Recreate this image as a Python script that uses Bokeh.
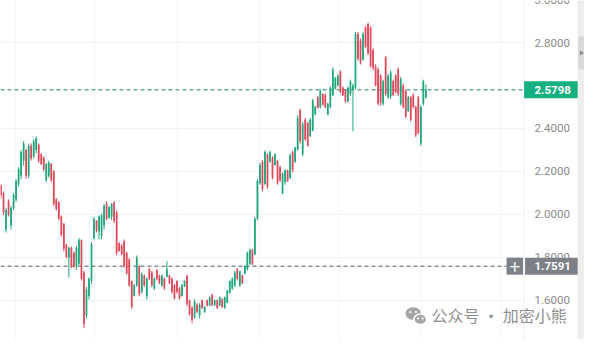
import numpy as np
from bokeh.plotting import figure
from bokeh.models import Range1d, FixedTicker, ColumnDataSource
from bokeh.core.properties import value
from bokeh.embed import file_html
from bokeh.resources import INLINE

# ---- data ----
opens = [2.135, 2.10, 1.93, 2.06, 1.95, 2.03, 2.07, 2.14, 2.18, 2.25,
         2.30, 2.18, 2.32, 2.27, 2.30, 2.325, 2.28, 2.265, 2.16, 2.18,
         2.235, 2.20, 2.07, 2.055, 1.99, 1.955, 1.86, 1.80, 1.845, 1.82,
         1.76, 1.77, 1.88, 1.73, 1.53, 1.62, 1.69, 1.89, 1.97, 1.92,
         1.90, 1.95, 2.05, 1.985, 1.99, 2.055, 2.01, 1.865, 1.855, 1.875,
         1.82, 1.79, 1.69, 1.62, 1.67, 1.76, 1.64, 1.715, 1.62, 1.745,
         1.73, 1.655, 1.74, 1.715, 1.67, 1.70, 1.71, 1.715, 1.70, 1.67,
         1.69, 1.655, 1.62, 1.665, 1.715, 1.60, 1.565, 1.52, 1.58, 1.53,
         1.60, 1.545, 1.60, 1.575, 1.625, 1.578, 1.60, 1.575, 1.605, 1.565,
         1.59, 1.635, 1.655, 1.67, 1.745, 1.67, 1.715, 1.725, 1.745, 1.77,
         1.835, 1.815, 1.98, 2.145, 2.245, 2.14, 2.28, 2.245, 2.265, 2.23,
         2.25, 2.22, 2.10, 2.15, 2.205, 2.17, 2.29, 2.245, 2.30, 2.485,
         2.28, 2.44, 2.425, 2.365, 2.39, 2.465, 2.545, 2.50, 2.56, 2.555,
         2.465, 2.50, 2.555, 2.585, 2.60, 2.665, 2.59, 2.578, 2.525, 2.56,
         2.58, 2.59, 2.84, 2.81, 2.72, 2.87, 2.885, 2.87, 2.765, 2.69,
         2.675, 2.645, 2.515, 2.73, 2.545, 2.55, 2.62, 2.645, 2.675, 2.515,
         2.60, 2.575, 2.48, 2.545, 2.555, 2.50, 2.545, 2.33, 2.515, 2.545]
highs = [2.14, 2.107, 2.031, 2.07, 2.04, 2.10, 2.164, 2.22, 2.30, 2.342,
         2.305, 2.33, 2.33, 2.35, 2.364, 2.33, 2.285, 2.27, 2.24, 2.25,
         2.24, 2.205, 2.076, 2.062, 1.995, 1.96, 1.862, 1.85, 1.85, 1.827,
         1.853, 1.89, 1.884, 1.738, 1.662, 1.707, 1.871, 1.987, 1.973, 1.995,
         2.004, 2.049, 2.062, 2.04, 2.053, 2.062, 2.018, 1.871, 1.862, 1.884,
         1.827, 1.796, 1.693, 1.676, 1.809, 1.764, 1.73, 1.72, 1.707, 1.751,
         1.738, 1.707, 1.745, 1.72, 1.72, 1.707, 1.782, 1.72, 1.707, 1.676,
         1.693, 1.662, 1.676, 1.693, 1.72, 1.604, 1.573, 1.604, 1.587, 1.587,
         1.604, 1.573, 1.604, 1.618, 1.631, 1.604, 1.604, 1.618, 1.61, 1.618,
         1.649, 1.693, 1.707, 1.738, 1.751, 1.738, 1.72, 1.764, 1.827, 1.84,
         1.84, 1.987, 2.164, 2.24, 2.253, 2.298, 2.284, 2.298, 2.271, 2.284,
         2.253, 2.227, 2.196, 2.209, 2.209, 2.284, 2.298, 2.316, 2.462, 2.493,
         2.431, 2.449, 2.431, 2.449, 2.538, 2.507, 2.551, 2.582, 2.564, 2.564,
         2.52, 2.596, 2.684, 2.64, 2.653, 2.671, 2.596, 2.582, 2.596, 2.627,
         2.609, 2.849, 2.849, 2.818, 2.849, 2.876, 2.893, 2.876, 2.773, 2.698,
         2.684, 2.653, 2.627, 2.738, 2.653, 2.671, 2.627, 2.653, 2.684, 2.64,
         2.609, 2.582, 2.551, 2.551, 2.564, 2.507, 2.551, 2.507, 2.627, 2.605]
lows = [2.076, 1.996, 1.916, 1.99, 1.93, 2.02, 2.06, 2.13, 2.165, 2.227,
        2.165, 2.17, 2.25, 2.26, 2.285, 2.24, 2.23, 2.20, 2.15, 2.17,
        2.15, 2.04, 2.018, 1.973, 1.898, 1.827, 1.796, 1.707, 1.75, 1.75,
        1.742, 1.764, 1.693, 1.471, 1.516, 1.604, 1.676, 1.884, 1.916, 1.884,
        1.884, 1.929, 1.973, 1.98, 1.973, 1.96, 1.809, 1.827, 1.809, 1.751,
        1.72, 1.662, 1.56, 1.618, 1.662, 1.618, 1.631, 1.662, 1.604, 1.693,
        1.662, 1.649, 1.693, 1.676, 1.662, 1.649, 1.707, 1.676, 1.631, 1.604,
        1.631, 1.604, 1.618, 1.662, 1.573, 1.529, 1.493, 1.516, 1.542, 1.516,
        1.56, 1.542, 1.573, 1.573, 1.573, 1.573, 1.56, 1.573, 1.565, 1.56,
        1.587, 1.631, 1.649, 1.662, 1.693, 1.662, 1.676, 1.72, 1.738, 1.764,
        1.764, 1.809, 1.973, 2.138, 2.107, 2.138, 2.12, 2.24, 2.164, 2.227,
        2.138, 2.151, 2.093, 2.138, 2.151, 2.164, 2.196, 2.24, 2.298, 2.329,
        2.271, 2.342, 2.316, 2.36, 2.387, 2.462, 2.493, 2.493, 2.507, 2.493,
        2.462, 2.493, 2.551, 2.582, 2.596, 2.564, 2.551, 2.52, 2.52, 2.551,
        2.387, 2.582, 2.716, 2.698, 2.716, 2.773, 2.742, 2.684, 2.671, 2.596,
        2.507, 2.507, 2.507, 2.551, 2.538, 2.538, 2.551, 2.564, 2.551, 2.507,
        2.493, 2.449, 2.476, 2.431, 2.493, 2.36, 2.373, 2.32, 2.507, 2.538]
closes = [2.09, 2.01, 2.02, 2.00, 2.03, 2.09, 2.155, 2.21, 2.29, 2.33,
          2.18, 2.32, 2.26, 2.34, 2.355, 2.25, 2.235, 2.21, 2.235, 2.24,
          2.16, 2.05, 2.025, 1.98, 1.905, 1.84, 1.80, 1.845, 1.76, 1.76,
          1.845, 1.88, 1.70, 1.49, 1.65, 1.70, 1.86, 1.98, 1.925, 1.99,
          1.995, 2.04, 1.98, 2.035, 2.05, 1.97, 1.82, 1.83, 1.815, 1.76,
          1.725, 1.67, 1.57, 1.67, 1.80, 1.63, 1.72, 1.67, 1.70, 1.70,
          1.67, 1.70, 1.70, 1.68, 1.715, 1.655, 1.745, 1.68, 1.64, 1.61,
          1.64, 1.61, 1.67, 1.69, 1.585, 1.535, 1.51, 1.595, 1.545, 1.58,
          1.565, 1.57, 1.575, 1.615, 1.58, 1.60, 1.565, 1.615, 1.57, 1.615,
          1.645, 1.69, 1.70, 1.73, 1.70, 1.735, 1.68, 1.76, 1.82, 1.835,
          1.77, 1.98, 2.155, 2.23, 2.12, 2.29, 2.13, 2.29, 2.17, 2.28,
          2.145, 2.16, 2.19, 2.205, 2.155, 2.275, 2.205, 2.31, 2.45, 2.34,
          2.42, 2.35, 2.32, 2.44, 2.53, 2.50, 2.495, 2.575, 2.51, 2.50,
          2.515, 2.59, 2.675, 2.635, 2.645, 2.57, 2.555, 2.525, 2.59, 2.62,
          2.60, 2.84, 2.725, 2.705, 2.84, 2.78, 2.75, 2.69, 2.68, 2.60,
          2.515, 2.52, 2.62, 2.56, 2.645, 2.66, 2.555, 2.57, 2.56, 2.63,
          2.50, 2.455, 2.545, 2.44, 2.50, 2.37, 2.38, 2.50, 2.62, 2.5798]

last_price = closes[-1]
marked_price = 1.7591
tick_prices = [1.6, 1.8, 2.0, 2.2, 2.4, 2.8, 3.0]
tick_labels = ["1.6000", "1.8000", "2.0000", "2.2000", "2.4000", "2.8000", "3.0000"]
time_grid = [5.6, 37.35, 70.2, 102.4, 134.5, 167.1, 199.1]
watermark = "公众号 · 加密小熊"

UP = "#22a67e"
DOWN = "#dc4a5c"

W, H = 584, 339
n = len(closes)
idx = np.arange(n)
o = np.array(opens); c = np.array(closes)
colors = [UP if cc >= oo else DOWN for oo, cc in zip(opens, closes)]
src = ColumnDataSource(dict(x=idx, o=o, h=highs, l=lows, c=c,
                            top=np.maximum(o, c), bot=np.minimum(o, c), color=colors))

p = figure(width=W, height=H, output_backend="svg", toolbar_location=None,
           x_range=Range1d(-0.2, 232.1), y_range=Range1d(1.4178, 2.9956),
           x_axis_location=None, y_axis_location=None, min_border=0,
           outline_line_color=None, background_fill_color="white")
p.extra_x_ranges = {"px": Range1d(0, W)}
p.extra_y_ranges = {"py": Range1d(H, 0)}

p.ygrid.ticker = FixedTicker(ticks=tick_prices)
p.xgrid.ticker = FixedTicker(ticks=time_grid)
p.ygrid.grid_line_color = "#f1f1f1"
p.xgrid.grid_line_color = "#f4f4f4"

# price lines
p.segment(x0=[0], y0=[last_price], x1=[523.6], y1=[last_price], x_range_name="px",
          line_color="#23876d", line_width=1, line_dash="4 3")
p.segment(x0=[0], y0=[marked_price], x1=[506], y1=[marked_price], x_range_name="px",
          line_color="#555555", line_width=1, line_dash="4 3")

# candles
p.segment(x0="x", y0="h", x1="x", y1="l", color="color", line_width=1, source=src)
p.vbar(x="x", width=0.7, top="top", bottom="bot", fill_color="color",
       line_color=None, source=src)

# price scale panel
p.quad(left=[523.6], right=[W], top=[0], bottom=[H], x_range_name="px", y_range_name="py",
       fill_color="white", line_color=None)
p.segment(x0=[523.6], y0=[0], x1=[523.6], y1=[H], x_range_name="px", y_range_name="py",
          line_color="#efefef", line_width=1)
p.quad(left=[577.2], right=[W], top=[0], bottom=[H], x_range_name="px", y_range_name="py",
       fill_color="#eeeeee", line_color=None)
p.quad(left=[577.6], right=[W], top=[36], bottom=[69], x_range_name="px", y_range_name="py",
       fill_color="#d9d9d9", line_color=None)
p.scatter(x=[580.8], y=[52.5], marker="triangle", size=5, angle=-np.pi / 2,
          x_range_name="px", y_range_name="py", fill_color="#888888", line_color=None)

p.text(x=[534] * len(tick_labels), y=tick_prices, text=tick_labels, x_range_name="px",
       text_font=value("Roboto"), text_font_size=value("11.5px"), text_color="#8a8a8a",
       text_baseline="middle", text_align="left")

# last price label
p.rect(x=[550.4], y=[last_price], width=53.6, height=17, width_units="screen",
       height_units="screen", x_range_name="px", fill_color="#15b080", line_color=None)
p.text(x=[534], y=[last_price], text=[f"{last_price:.4f}"], x_range_name="px",
       text_font=value("Roboto"), text_font_size=value("11.5px"), text_color="white",
       text_font_style="bold", text_baseline="middle", text_align="left")

# marked price label
p.rect(x=[550.9], y=[marked_price], width=52.6, height=17, width_units="screen",
       height_units="screen", x_range_name="px", fill_color="#7e8088", line_color=None)
p.rect(x=[514.3], y=[marked_price], width=16.5, height=17, width_units="screen",
       height_units="screen", x_range_name="px", fill_color="#7e8088", line_color=None)
p.text(x=[514.3], y=[marked_price], text=["+"], x_range_name="px",
       text_font=value("DejaVu Sans"), text_font_size=value("15px"), text_color="white",
       text_baseline="middle", text_align="center")
p.text(x=[534], y=[marked_price], text=[f"{marked_price:.4f}"], x_range_name="px",
       text_font=value("Roboto"), text_font_size=value("11.5px"), text_color="white",
       text_font_style="bold", text_baseline="middle", text_align="left")

# watermark
p.ellipse(x=[412.7], y=[313.0], width=15.5, height=12.6, x_range_name="px", y_range_name="py",
          fill_color="#a6a6a6", line_color=None)
p.ellipse(x=[419.8], y=[318.8], width=12.8, height=10.6, x_range_name="px", y_range_name="py",
          fill_color="#a6a6a6", line_color="white", line_width=1.5)
p.scatter(x=[409.8, 415.4, 417.6, 422.2], y=[311.5, 311.5, 318, 318], size=2.2,
          x_range_name="px", y_range_name="py", fill_color="white", line_color=None)
p.text(x=[431], y=[314], text=[watermark], x_range_name="px", y_range_name="py",
       text_font=value("Noto Sans CJK SC"), text_font_size=value("16px"),
       text_color="#8f8f8f", text_baseline="middle", text_align="left")

open("out.html", "w").write(file_html(p, INLINE))
